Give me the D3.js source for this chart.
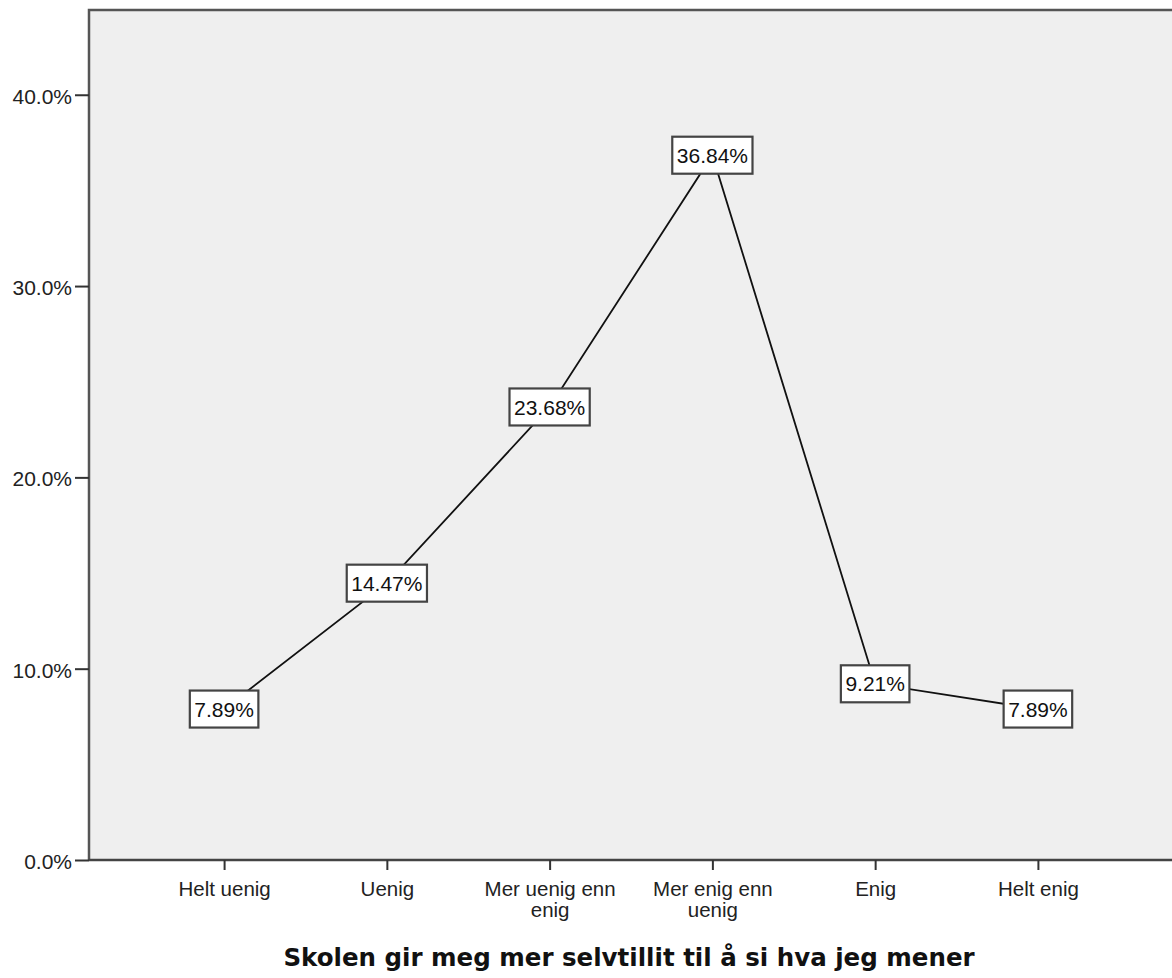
<!DOCTYPE html>
<html><head><meta charset="utf-8">
<script src="https://cdn.jsdelivr.net/npm/d3@7"></script>
<style>body{margin:0;background:#fff}svg{display:block}</style>
</head><body>
<svg id="c" width="1172" height="978"></svg>
<script>
const categories = ["Helt uenig","Uenig","Mer uenig enn enig","Mer enig enn uenig","Enig","Helt enig"];
const categoryLines = [["Helt uenig"],["Uenig"],["Mer uenig enn","enig"],["Mer enig enn","uenig"],["Enig"],["Helt enig"]];
const values = [7.89, 14.47, 23.68, 36.84, 9.21, 7.89];
const labels = ["7.89%","14.47%","23.68%","36.84%","9.21%","7.89%"];
const yTicks = [0,10,20,30,40];
const title = "Skolen gir meg mer selvtillit til å si hva jeg mener";

const FONT = "Arial, 'Liberation Sans', sans-serif";
const svg = d3.select("#c");
const L = 89, T = 10, R = 1173, B = 860;
const x = d3.scalePoint().domain(categories).range([L, R]).padding(0.83);
const y = d3.scaleLinear().domain([0, 44.43]).range([B, T]);

svg.append("rect").attr("x",L).attr("y",T).attr("width",R-L).attr("height",B-T).attr("fill","#efefef");
svg.append("path").attr("d",`M${L},${B}V${T}H${R+5}`).attr("fill","none").attr("stroke","#555").attr("stroke-width",2.5);

const yAxis = d3.axisLeft(y).tickValues(yTicks).tickFormat(d=>d3.format(".1f")(d)+"%").tickSize(14).tickPadding(3);
const gy = svg.append("g").attr("transform",`translate(${L},0)`).call(yAxis);
gy.attr("font-size",null).attr("font-family",null);
gy.select(".domain").remove();
gy.selectAll(".tick line").attr("stroke","#333").attr("stroke-width",2);
gy.selectAll(".tick text").style("font-family",FONT).style("font-size","21px").attr("fill","#222").attr("dy","0.4em");

const xAxis = d3.axisBottom(x).tickSize(10).tickFormat("");
const gx = svg.append("g").attr("transform",`translate(0,${B})`).call(xAxis);
gx.attr("font-size",null).attr("font-family",null);
gx.select(".domain").attr("d",`M${L},0H${R+5}`).attr("stroke","#444").attr("stroke-width",2.5);
gx.selectAll(".tick line").attr("stroke","#333").attr("stroke-width",2);
gx.selectAll(".tick").each(function(d,i){
  const t = d3.select(this).append("text").style("font-family",FONT)
    .style("font-size","20.5px").attr("fill","#222").attr("text-anchor","middle");
  categoryLines[i].forEach((s,j)=>t.append("tspan").attr("x",0).attr("y",36+j*21).text(s));
});

const pts = categories.map((c,i)=>[x(c), y(values[i])]);
svg.append("path").attr("d",d3.line()(pts)).attr("fill","none").attr("stroke","#111").attr("stroke-width",1.8);

const lg = svg.append("g").selectAll("g").data(categories).join("g")
  .attr("transform",(c,i)=>`translate(${x(c)},${y(values[i])})`);
lg.each(function(c,i){
  const g = d3.select(this);
  const t = g.append("text").attr("text-anchor","middle").attr("dy","0.36em")
    .style("font-family",FONT).style("font-size","21px").attr("fill","#111").text(labels[i]);
  const w = t.node().getComputedTextLength()+9, h = 37;
  g.insert("rect","text").attr("x",-w/2).attr("y",-h/2).attr("width",w).attr("height",h)
    .attr("fill","#fff").attr("stroke","#444").attr("stroke-width",2.2);
});

svg.append("text").attr("x",629).attr("y",966).attr("text-anchor","middle")
  .style("font-family","'DejaVu Sans', Verdana, sans-serif").attr("font-weight","bold").style("font-size","24.5px")
  .attr("fill","#111").text(title);
</script>
</body></html>
